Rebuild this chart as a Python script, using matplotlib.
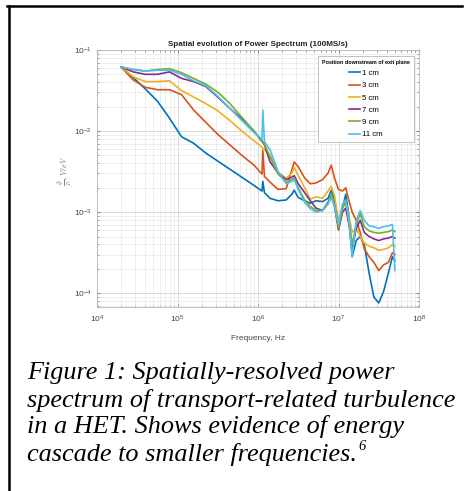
import matplotlib; matplotlib.use("Agg")
import numpy as np, matplotlib.pyplot as plt
from matplotlib.lines import Line2D

# frequency knots (log10 Hz) and curve levels (log10 V/eV)
LOG_F = [4.30, 4.45, 4.60, 4.75, 4.90, 5.05, 5.20, 5.35, 5.50, 5.65, 5.80, 5.95,
         6.05, 6.06, 6.08, 6.15, 6.25, 6.35, 6.42, 6.45, 6.50, 6.58, 6.65, 6.72,
         6.80, 6.87, 6.91, 6.95, 7.00, 7.05, 7.09, 7.13, 7.17, 7.22, 7.27, 7.32,
         7.38, 7.44, 7.50, 7.56, 7.62, 7.67, 7.70]
LOG_1CM = [-1.21, -1.34, -1.48, -1.63, -1.84, -2.07, -2.15, -2.27, -2.37, -2.47, -2.57, -2.67,
           -2.74, -2.62, -2.76, -2.83, -2.86, -2.85, -2.78, -2.73, -2.82, -2.86, -2.89, -2.86,
           -2.87, -2.83, -2.73, -2.84, -3.20, -2.95, -2.78, -3.05, -3.55, -3.35, -3.30, -3.40,
           -3.75, -4.05, -4.12, -3.98, -3.75, -3.55, -3.60]
LOG_3CM = [-1.21, -1.37, -1.46, -1.49, -1.49, -1.55, -1.74, -1.89, -2.04, -2.17, -2.30, -2.42,
           -2.53, -2.24, -2.56, -2.63, -2.72, -2.71, -2.48, -2.38, -2.44, -2.58, -2.65, -2.64,
           -2.60, -2.52, -2.42, -2.58, -2.72, -2.74, -2.70, -2.86, -3.00, -3.10, -3.25, -3.45,
           -3.55, -3.62, -3.72, -3.65, -3.62, -3.50, -3.52]
LOG_5CM = [-1.21, -1.33, -1.39, -1.39, -1.38, -1.50, -1.58, -1.66, -1.75, -1.87, -2.00, -2.12,
           -2.20, -2.21, -2.23, -2.30, -2.51, -2.58, -2.52, -2.45, -2.55, -2.70, -2.84, -2.81,
           -2.83, -2.74, -2.68, -2.80, -3.10, -2.95, -2.88, -3.05, -3.25, -3.20, -3.30, -3.38,
           -3.42, -3.44, -3.47, -3.46, -3.44, -3.40, -3.42]
LOG_7CM = [-1.21, -1.27, -1.30, -1.30, -1.27, -1.35, -1.39, -1.45, -1.58, -1.72, -1.85, -2.00,
           -2.13, -2.14, -2.17, -2.38, -2.52, -2.60, -2.57, -2.55, -2.65, -2.76, -2.86, -2.95,
           -2.98, -2.88, -2.80, -2.92, -3.22, -3.00, -2.95, -3.15, -3.45, -3.20, -3.10, -3.25,
           -3.30, -3.33, -3.35, -3.33, -3.32, -3.30, -3.32]
LOG_9CM = [-1.21, -1.24, -1.26, -1.24, -1.23, -1.28, -1.35, -1.42, -1.52, -1.66, -1.83, -2.00,
           -2.12, -2.13, -2.16, -2.32, -2.53, -2.63, -2.60, -2.58, -2.70, -2.85, -2.93, -2.98,
           -2.98, -2.90, -2.78, -2.92, -3.20, -2.95, -2.88, -3.10, -3.40, -3.15, -3.02, -3.18,
           -3.23, -3.25, -3.26, -3.25, -3.24, -3.22, -3.24]
LOG_11CM = [-1.21, -1.24, -1.26, -1.25, -1.25, -1.30, -1.38, -1.44, -1.57, -1.72, -1.87, -2.02,
            -2.10, -1.74, -2.13, -2.23, -2.50, -2.65, -2.62, -2.60, -2.72, -2.88, -2.96, -3.00,
            -2.98, -2.90, -2.82, -2.92, -3.15, -2.90, -2.85, -3.10, -3.55, -3.10, -2.98, -3.10,
            -3.17, -3.18, -3.20, -3.18, -3.17, -3.15, -3.72]
LABELS = ["1 cm", "3 cm", "5 cm", "7 cm", "9 cm", "11 cm"]
COLORS = ["#0072BD", "#D95319", "#EDB120", "#7E2F8E", "#77AC30", "#4DBEEE"]
CAPTION = ["Figure 1: Spatially-resolved power",
           "spectrum of transport-related turbulence",
           "in a HET. Shows evidence of energy",
           "cascade to smaller frequencies."]

plt.rcParams["mathtext.fontset"] = "stix"
plt.rcParams["font.family"] = ["Liberation Sans Narrow", "Liberation Sans", "DejaVu Sans"]
W, H = 467, 491
fig = plt.figure(figsize=(W / 100, H / 100), dpi=100)
ax = fig.add_axes([97 / W, 1 - 307 / H, 322 / W, 257 / H])

freq = 10 ** np.array(LOG_F)
for lab, c, ys in zip(LABELS, COLORS, (LOG_1CM, LOG_3CM, LOG_5CM, LOG_7CM, LOG_9CM, LOG_11CM)):
    ax.plot(freq, 10 ** np.array(ys), color=c, lw=1.2, label=lab)

ax.set_xscale("log"); ax.set_yscale("log")
ax.set_xlim(1e4, 1e8); ax.set_ylim(10 ** -4.17, 1e-1)
ax.set_xticks([1e4, 1e5, 1e6, 1e7, 1e8]); ax.set_yticks([1e-4, 1e-3, 1e-2, 1e-1])
ax.grid(True, which="major", color="#d4d4d4", lw=0.6)
ax.grid(True, which="minor", color="#e8e8e8", lw=0.5)
ax.set_axisbelow(True)
ax.tick_params(which="both", direction="in", labelsize=6, colors="#888888",
               labelcolor="#444444", length=2, top=True, right=True)
ax.tick_params(axis="x", pad=5)
ax.tick_params(which="minor", length=1.2)
for s in ax.spines.values():
    s.set_color("#b8b8b8"); s.set_linewidth(0.6)
ax.set_title("Spatial evolution of Power Spectrum (100MS/s)", fontsize=5.8,
             fontweight="bold", color="#222222", pad=3)
ax.set_xlabel("Frequency, Hz", fontsize=6, color="#444444", labelpad=7)
ax.set_ylabel(r"$\frac{\tilde{\phi}}{T_e}, V/eV$", fontsize=6.5, color="#888888")
ax.yaxis.set_label_coords(-0.07, 0.53)

leg = ax.legend(title="Position downstream of exit plane", loc="upper right",
                bbox_to_anchor=(0.995, 0.992), fontsize=5.6, title_fontsize=3.9,
                handlelength=1.4, handletextpad=0.2, labelspacing=0.62,
                framealpha=1, edgecolor="#b8b8b8", fancybox=False, borderpad=0.5)
leg.get_title().set_fontweight("bold")
leg.get_frame().set_linewidth(0.6)
leg._legend_box.align = "center"

# page frame (top and left rules)
fig.add_artist(Line2D([7 / W, 462 / W], [1 - 5.5 / H, 1 - 5.5 / H], color="black", lw=1.8))
fig.add_artist(Line2D([8.5 / W, 8.5 / W], [0, 1 - 5.5 / H], color="black", lw=1.8))

for i, line in enumerate(CAPTION):
    t = fig.text(27 / W, 1 - (373 + 27 * i) / H, line, fontsize=18.9, family="Liberation Serif",
                 style="italic", va="center", ha="left")
# superscript reference mark after the last caption line
fig.canvas.draw()
bb = t.get_window_extent()
fig.text(bb.x1 / W + 1.5 / W, 1 - 446 / H, "6", fontsize=10.5, family="Liberation Serif",
         style="italic", va="center", ha="left")

fig.savefig("out.png", dpi=100)
